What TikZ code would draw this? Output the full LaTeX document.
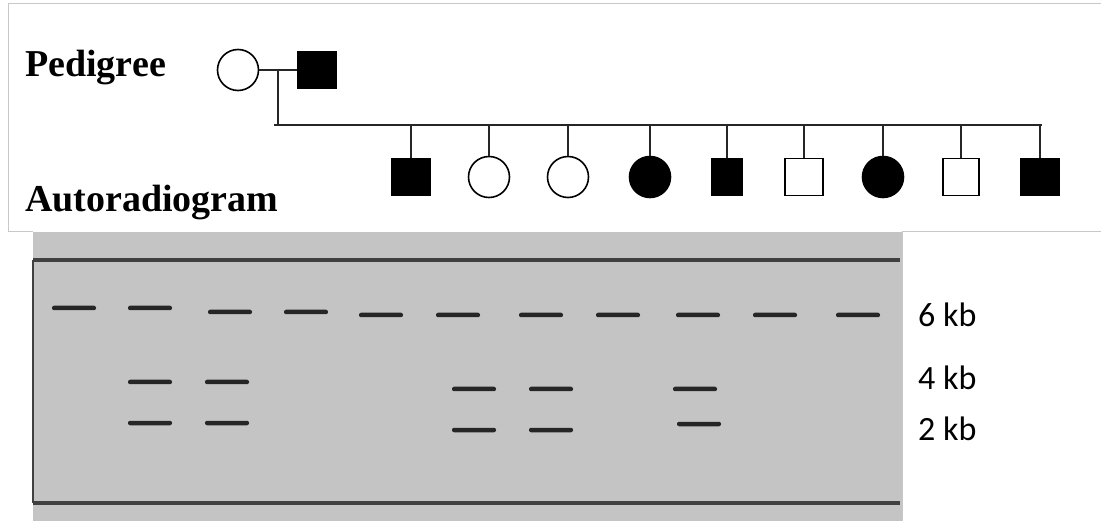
\documentclass[tikz,border=0pt]{standalone}
\usepackage{fontspec}
\usetikzlibrary{calc}
\setmainfont{Liberation Serif}
\newfontfamily\kbfont{Carlito}
\definecolor{gelgray}{HTML}{C4C4C4}
\definecolor{framegray}{HTML}{C8C8C8}
\tikzset{
  female/.style={circle, draw, line width=1.6pt, minimum size=41pt, inner sep=0pt},
  male/.style={rectangle, draw, line width=1.6pt, minimum width=38pt, minimum height=37pt, inner sep=0pt},
  affected/.style={fill=black},
  normal/.style={fill=white},
  line/.style={line width=1.8pt, black!85},
  title/.style={inner sep=0pt, anchor=base west, font=\fontsize{38}{40}\selectfont\bfseries},
  size/.style={inner sep=0pt, anchor=base west, font=\kbfont\fontsize{34}{36}\selectfont},
  band/.style={rectangle, rounded corners=2pt, fill=black!85, minimum width=44pt, minimum height=4.5pt, inner sep=0pt},
  gelline/.style={line width=3.5pt, black!75},
}
\begin{document}
\begin{tikzpicture}[x=1pt, y=-1pt]
\useasboundingbox (0,0) rectangle (1101,521);

% panels
\draw[framegray, line width=1pt] (8,232) -- (8,4) -- (1101,4);
\draw[framegray, line width=1pt] (8,232) -- (33,232) (902,232) -- (1101,232);
\fill[gelgray] (33,232) rectangle (902,521);
\draw[framegray, line width=1pt] (902,232) -- (902,521);
\draw[gelline] (33,260) -- (900,260);
\draw[gelline] (33,503) -- (900,503);
\draw[line width=1.5pt, black!75] (33,260) -- (33,503);

% titles
\node[title] (pedigree) at (25,77) {Pedigree};
\node[title] (autorad) at (25,212) {Autoradiogram};

% parents
\node[female, normal] (mother) at (238,70) {};
\node[male, affected] (father) at (317,70) {};
\draw[line] (mother) -- (father);
\coordinate (mate) at ($(mother.east)!0.5!(father.west)$);
\coordinate (sibL) at (274,125);
\coordinate (sibR) at (1042,125);
\draw[line] (mate) -- (mate |- sibL);
\draw[line] (sibL) -- (sibR);

% children
\foreach \name/\x/\kind/\state/\w in {c1/411/male/affected/38, c2/489/female/normal/41,
  c3/568/female/normal/41, c4/650/female/affected/41, c5/727/male/affected/31,
  c6/804/male/normal/38, c7/883/female/affected/41, c8/961/male/normal/36,
  c9/1040/male/affected/38} {
  \node[\kind, \state, minimum width=\w pt] (\name) at (\x,177) {};
  \draw[line] (\name |- sibL) -- (\name);
}

% bands
\foreach \lane/\x/\y in {1/74/308, 2/150/308, 3/230/312, 4/306/312, 5/381/315,
  6/458/315, 7/541/315, 8/618/315, 9/698/315, 10/775/315, 11/858/315} {
  \node[band] (b\lane-6) at (\x,\y) {};
}
\foreach \lane/\x/\y in {2/150/382, 3/227/382, 6/474/389, 7/551/389, 9/695/389} {
  \node[band] (b\lane-4) at (\x,\y) {};
}
\foreach \lane/\x/\y in {2/150/423, 3/227/423, 6/474/430, 7/551/430, 9/699/424} {
  \node[band] (b\lane-2) at (\x,\y) {};
}

% sizes
\node[size] (kb6) at (918,327) {6 kb};
\node[size] (kb4) at (918,389) {4 kb};
\node[size] (kb2) at (918,440) {2 kb};
\end{tikzpicture}
\end{document}
